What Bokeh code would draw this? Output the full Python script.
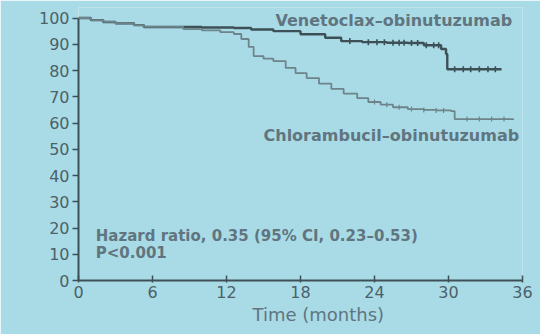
import numpy as np
from bokeh.plotting import figure
from bokeh.models import Range1d, FixedTicker, Label, Title
from bokeh.embed import file_html
from bokeh.resources import INLINE
from math import pi

# Kaplan-Meier curves (months, % event-free)
ven_t = [0, 1, 2, 3, 4.5, 5.3, 8, 10, 12.6, 14, 15.8, 18, 20, 21.3, 23, 25, 26.7, 28, 29.4, 29.8, 29.9, 32, 34.3]
ven_s = [100, 99.2, 98.5, 98, 97.3, 96.6, 96.6, 96.4, 96.2, 95.6, 95, 93.8, 92.5, 91.2, 90.8, 90.6, 90.5, 89.6, 88.2, 86.3, 80.5, 80.5, 80.5]

clb_t = [0, 1, 2, 3, 4.5, 5.3, 8.5, 10, 11.5, 12.6, 13.2, 13.8, 14.2, 15, 15.8, 16.8, 17.6, 18.5, 19.5, 20.5,
         21.5, 22.6, 23.5, 24.5, 25.5, 26.7, 28, 29, 30.2, 30.5, 33, 35.3]
clb_s = [100, 99.2, 98.5, 98, 97.3, 96.6, 95.8, 95.3, 94.6, 93.9, 92, 89, 85.5, 84.5, 83.6, 81, 79, 77.1, 75, 73,
         71.2, 69.5, 68, 67, 66, 65.3, 65, 64.8, 64.5, 61.5, 61.5, 61.5]

ven_cens = [22, 23.5, 24.2, 24.8, 25.5, 26, 26.4, 27, 27.5, 28.2, 28.8, 29.2, 30.5, 31.2, 31.8, 32.5, 33.2, 33.8]
clb_cens = [24, 25, 26, 27, 28, 29, 29.6, 31.5, 32.5, 33.5, 34.5]

x_ticks = [0, 6, 12, 18, 24, 30, 36]
y_ticks = [0, 10, 20, 30, 40, 50, 60, 70, 80, 90, 100]

ven_label = "Venetoclax\u2013obinutuzumab"
clb_label = "Chlorambucil\u2013obinutuzumab"
hr_text = "Hazard ratio, 0.35 (95% CI, 0.23\u20130.53)"
p_text = "P<0.001"
x_title = "Time (months)"

BG = "#a9dbe6"
DARK = "#3e5057"
LIGHT = "#6e848b"
TXT = "#4c6168"
LTXT = "#607580"

p = figure(width=540, height=334, output_backend="svg", toolbar_location=None,
           x_range=Range1d(0, 36), y_range=Range1d(0, 104),
           min_border_left=78, min_border_right=18, min_border_top=7, min_border_bottom=54)
p.background_fill_color = BG
p.border_fill_color = BG
p.outline_line_color = None
p.grid.visible = False

p.step(ven_t, ven_s, mode="after", line_color=DARK, line_width=2.4)
p.step(clb_t, clb_s, mode="after", line_color=LIGHT, line_width=1.8)

def km_at(ts, ss, q):
    idx = np.searchsorted(np.array(ts), np.array(q), side="right") - 1
    return np.array(ss)[idx]

p.scatter(ven_cens, km_at(ven_t, ven_s, ven_cens), marker="dash", angle=pi / 2, size=6,
          line_color=DARK, line_width=1.6)
p.scatter(clb_cens, km_at(clb_t, clb_s, clb_cens), marker="dash", angle=pi / 2, size=5,
          line_color=LIGHT, line_width=1.2)

for ax in (p.xaxis[0], p.yaxis[0]):
    ax.axis_line_color = DARK
    ax.axis_line_width = 2
    ax.major_tick_line_color = DARK
    ax.major_tick_line_width = 1.5
    ax.minor_tick_line_color = None
    ax.major_label_text_color = TXT
    ax.major_label_text_font = "DejaVu Sans"
    ax.major_label_text_font_size = "16px"

p.yaxis.bounds = (0, 100)
p.xaxis.ticker = FixedTicker(ticks=x_ticks)
p.yaxis.ticker = FixedTicker(ticks=y_ticks)
p.xaxis.major_tick_in = 5
p.xaxis.major_tick_out = 2
p.yaxis.major_tick_in = 0
p.yaxis.major_tick_out = 6
p.xaxis.major_label_standoff = 3
p.yaxis.major_label_standoff = 3

p.add_layout(Title(text=x_title, align="left", offset=174, text_font="DejaVu Sans",
                   text_font_style="normal", text_font_size="18px", text_color=LTXT,
                   standoff=3), "below")

lab_kw = dict(text_font="DejaVu Sans", text_font_style="bold", text_color=LTXT, text_baseline="middle")
p.add_layout(Label(x=15.97, y=98.9, text=ven_label, text_font_size="16px", **lab_kw))
p.add_layout(Label(x=15.0, y=55.1, text=clb_label, text_font_size="16px", **lab_kw))
p.add_layout(Label(x=1.4, y=17.1, text=hr_text, text_font_size="15px", **lab_kw))
p.add_layout(Label(x=1.4, y=10.3, text=p_text, text_font_size="15px", **lab_kw))

open("out.html", "w").write(file_html(p, INLINE))
